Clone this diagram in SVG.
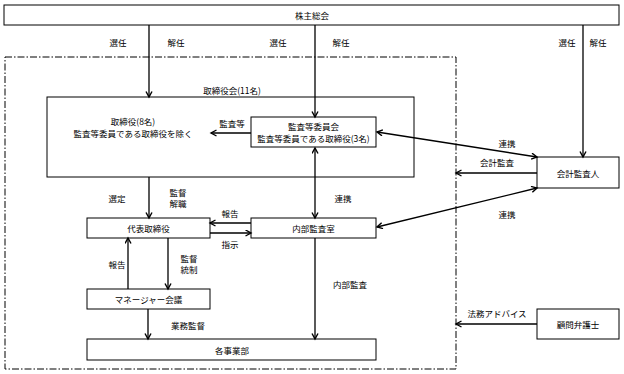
<svg xmlns="http://www.w3.org/2000/svg" width="624" height="374" viewBox="0 0 624 374">
<style>
text{font-family:"Noto Sans CJK JP","Liberation Sans",sans-serif;font-size:8.5px;fill:#000;text-anchor:middle;dominant-baseline:central}
.box{fill:#fff;stroke:#000;stroke-width:1}
.c line{stroke:#000;stroke-width:1.3;fill:none}
.e{marker-end:url(#a)}
.b{marker-end:url(#a);marker-start:url(#a)}
</style>
<defs>
<marker id="a" markerUnits="userSpaceOnUse" markerWidth="8" markerHeight="8" refX="6" refY="3.5" orient="auto-start-reverse">
<path d="M0.5,0.5 L6,3.5 L0.5,6.5" fill="none" stroke="#000" stroke-width="1.4"/>
</marker>
</defs>
<rect width="624" height="374" fill="#fff"/>
<rect x="5" y="57" width="451" height="312" fill="none" stroke="#000" stroke-width="1" stroke-dasharray="7 2 1.5 2"/>
<g id="n-shareholders"><rect class="box" x="4" y="5" width="615" height="20" stroke-width="1.6"/><text x="312" y="15">株主総会</text></g>
<g id="n-board"><rect class="box" x="47" y="97" width="367" height="80"/><text x="232" y="90">取締役会(11名)</text><text x="133" y="121">取締役(8名)</text><text x="133" y="133">監査等委員である取締役を除く</text></g>
<g id="n-audit-committee"><rect class="box" x="251" y="117" width="125" height="30"/><text x="313.5" y="126">監査等委員会</text><text x="313.5" y="138">監査等委員である取締役(3名)</text></g>
<g id="n-accounting-auditor"><rect class="box" x="537" y="157" width="82" height="31"/><text x="578" y="172.5">会計監査人</text></g>
<g id="n-ceo"><rect class="box" x="87" y="218" width="123" height="20"/><text x="148.5" y="228">代表取締役</text></g>
<g id="n-internal-audit"><rect class="box" x="251" y="218" width="125" height="20"/><text x="313.5" y="228">内部監査室</text></g>
<g id="n-manager"><rect class="box" x="87" y="289" width="123" height="20"/><text x="148.5" y="299">マネージャー会議</text></g>
<g id="n-divisions"><rect class="box" x="87" y="339" width="289" height="21"/><text x="232" y="349.5">各事業部</text></g>
<g id="n-lawyer"><rect class="box" x="537" y="309" width="82" height="30"/><text x="578" y="324">顧問弁護士</text></g>
<g class="c" id="connectors">
<line class="e" x1="149" y1="25" x2="149" y2="97"/>
<line class="e" x1="315" y1="25" x2="315" y2="117"/>
<line class="e" x1="583" y1="25" x2="583" y2="157"/>
<line class="e" x1="251" y1="133" x2="211" y2="133"/>
<line class="b" x1="377" y1="132" x2="537" y2="157"/>
<line class="e" x1="537" y1="173" x2="456" y2="173"/>
<line class="b" x1="377" y1="227" x2="537" y2="188"/>
<line class="e" x1="149" y1="177" x2="149" y2="218"/>
<line class="b" x1="315" y1="148" x2="315" y2="218"/>
<line class="e" x1="251" y1="223" x2="210" y2="223"/>
<line class="e" x1="210" y1="233" x2="251" y2="233"/>
<line class="e" x1="128" y1="289" x2="128" y2="238"/>
<line class="e" x1="168" y1="238" x2="168" y2="289"/>
<line class="e" x1="148" y1="309" x2="148" y2="339"/>
<line class="e" x1="315" y1="238" x2="315" y2="339"/>
<line class="e" x1="537" y1="324" x2="456" y2="324"/>
</g>
<g id="labels">
<text x="118" y="42">選任</text><text x="176" y="42">解任</text>
<text x="278" y="42">選任</text><text x="341" y="42">解任</text>
<text x="567" y="42">選任</text><text x="598" y="42">解任</text>
<text x="232" y="123">監査等</text>
<text x="507" y="143">連携</text>
<text x="497" y="162">会計監査</text>
<text x="507" y="214">連携</text>
<text x="117" y="198">選定</text>
<text x="178" y="192">監督</text><text x="178" y="203">解職</text>
<text x="343" y="198">連携</text>
<text x="230" y="213">報告</text>
<text x="230" y="244">指示</text>
<text x="117" y="264">報告</text>
<text x="189" y="258">監督</text><text x="189" y="269">統制</text>
<text x="188" y="325">業務監督</text>
<text x="350" y="284">内部監査</text>
<text x="497" y="313">法務アドバイス</text>
</g>
</svg>
